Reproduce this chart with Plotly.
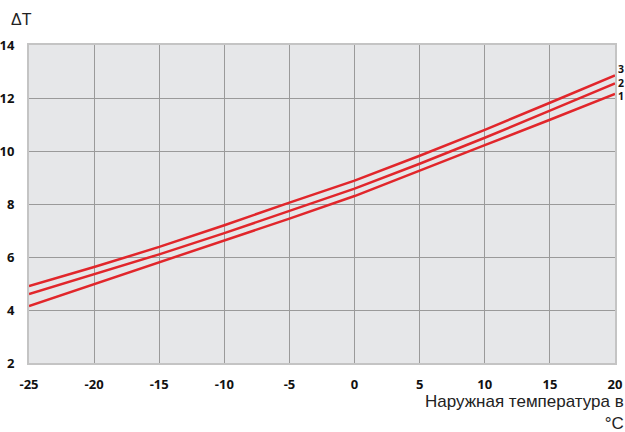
import plotly.graph_objects as go

temps = [-25, -20, -15, -10, -5, 0, 5, 10, 15, 20]
curve1 = [4.15, 4.97, 5.80, 6.62, 7.45, 8.30, 9.25, 10.22, 11.18, 12.15]
curve2 = [4.60, 5.35, 6.10, 6.90, 7.75, 8.58, 9.52, 10.50, 11.52, 12.55]
curve3 = [4.90, 5.62, 6.38, 7.20, 8.05, 8.88, 9.82, 10.80, 11.82, 12.85]
curve_names = ["1", "2", "3"]
label_levels = [12.06, 12.57, 13.08]
x_ticks = [-25, -20, -15, -10, -5, 0, 5, 10, 15, 20]
x_ticktext = ["-25", "-20", "-15", "-10", "-5", "0", "5", "10", "15", "20"]
y_ticks = [2, 4, 6, 8, 10, 12, 14]

red = "#e1262b"
fig = go.Figure()
for name, ys in zip(curve_names, [curve1, curve2, curve3]):
    fig.add_trace(go.Scatter(x=temps, y=ys, mode="lines", name=name,
                             line=dict(color=red, width=2.5), showlegend=False,
                             cliponaxis=False))

for name, lv in zip(curve_names, label_levels):
    fig.add_annotation(x=temps[-1], y=lv, xref="x", yref="y", text=name,
                       showarrow=False, xanchor="left", yanchor="middle",
                       xshift=2, borderpad=0,
                       font=dict(family="Open Sans", size=10.5, color="#111", weight="bold"))

fig.add_annotation(x=1.0, y=-0.088, xref="paper", yref="paper",
                   text="Наружная температура в<br>°C", showarrow=False,
                   xanchor="right", yanchor="top", align="right", xshift=10,
                   borderpad=0,
                   font=dict(family="Liberation Sans", size=17, color="#222"))
fig.add_annotation(x=0, y=1.0, xref="paper", yref="paper", text="ΔT",
                   showarrow=False, xanchor="left", yanchor="bottom",
                   xshift=-20, yshift=15,
                   font=dict(family="Liberation Sans", size=16, color="#222"))

tickfont = dict(family="Open Sans", size=13, color="#111", weight="bold")
fig.update_xaxes(range=[-25, 20], tickvals=x_ticks, ticktext=x_ticktext, showgrid=True,
                 gridcolor="#9a9a9a", gridwidth=1.3, zeroline=False,
                 showline=True, linecolor="#c4c4c4", linewidth=2, mirror=True,
                 tickfont=tickfont, ticks="", ticklabelstandoff=8, automargin=False)
fig.update_yaxes(range=[2, 14], tickvals=y_ticks, showgrid=True,
                 gridcolor="#9a9a9a", gridwidth=1.3, zeroline=False,
                 showline=True, linecolor="#c4c4c4", linewidth=2, mirror=True,
                 tickfont=tickfont, ticks="", ticklabelstandoff=10, automargin=False)

fig.update_layout(width=625, height=432,
                  margin=dict(l=29, r=10, t=45, b=69),
                  plot_bgcolor="#e6e7e9", paper_bgcolor="white")

fig.write_html("out.html", config={"displayModeBar": False},
               post_script="document.body.style.margin='0';")
